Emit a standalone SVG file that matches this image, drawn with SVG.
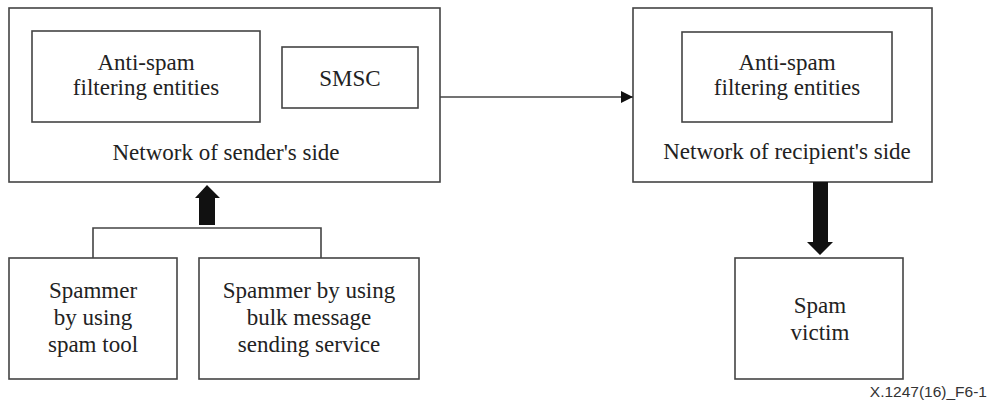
<svg xmlns="http://www.w3.org/2000/svg" width="989" height="405" viewBox="0 0 989 405">
<style>
.box{fill:#fff;stroke:#444;stroke-width:1.6}
.t{font-family:"Liberation Serif","Times New Roman",serif;font-size:23px;fill:#222;text-anchor:middle}
.ln{fill:none;stroke:#444;stroke-width:1.6}
.lbl{font-family:"Liberation Sans",Arial,sans-serif;font-size:15.5px;fill:#333;text-anchor:end}
</style>
<defs>
<marker id="ah" markerWidth="12" markerHeight="12" refX="12" refY="6" orient="auto" markerUnits="userSpaceOnUse">
<path d="M0,0 L12,6 L0,12 Z" fill="#111"/>
</marker>
</defs>
<rect width="989" height="405" fill="#fff"/>
<g id="sender-network">
<rect class="box" x="9" y="8" width="431" height="174"/>
<text class="t" x="226" y="160">Network of sender's side</text>
</g>
<g id="sender-antispam">
<rect class="box" x="32" y="31" width="228" height="91"/>
<text class="t" x="146" y="70">Anti-spam</text>
<text class="t" x="146" y="95">filtering entities</text>
</g>
<g id="smsc">
<rect class="box" x="282" y="47" width="136" height="61"/>
<text class="t" x="350" y="86">SMSC</text>
</g>
<g id="recipient-network">
<rect class="box" x="633" y="8" width="299" height="174"/>
<text class="t" x="787" y="159">Network of recipient's side</text>
</g>
<g id="recipient-antispam">
<rect class="box" x="682" y="32" width="210" height="90"/>
<text class="t" x="787" y="70">Anti-spam</text>
<text class="t" x="787" y="95">filtering entities</text>
</g>
<g id="spammer-tool">
<rect class="box" x="9" y="258" width="168" height="121"/>
<text class="t" x="93" y="298">Spammer</text>
<text class="t" x="93" y="325">by using</text>
<text class="t" x="93" y="352">spam tool</text>
</g>
<g id="spammer-bulk">
<rect class="box" x="199" y="258" width="220" height="121"/>
<text class="t" x="309" y="298">Spammer by using</text>
<text class="t" x="309" y="325">bulk message</text>
<text class="t" x="309" y="352">sending service</text>
</g>
<g id="spam-victim">
<rect class="box" x="735" y="258" width="168" height="121"/>
<text class="t" x="820" y="313">Spam</text>
<text class="t" x="820" y="340">victim</text>
</g>
<g id="connectors">
<line class="ln" x1="440" y1="97" x2="633" y2="97" marker-end="url(#ah)"/>
<polyline class="ln" points="93,258 93,228 321,228 321,258"/>
<path d="M199,225 L199,198 L195,198 L207,185 L220,198 L215,198 L215,225 Z" fill="#111"/>
<path d="M813,182 L813,242 L807,242 L820,255 L833,242 L828,242 L828,182 Z" fill="#111"/>
</g>
<text class="lbl" x="987" y="397">X.1247(16)_F6-1</text>
</svg>
